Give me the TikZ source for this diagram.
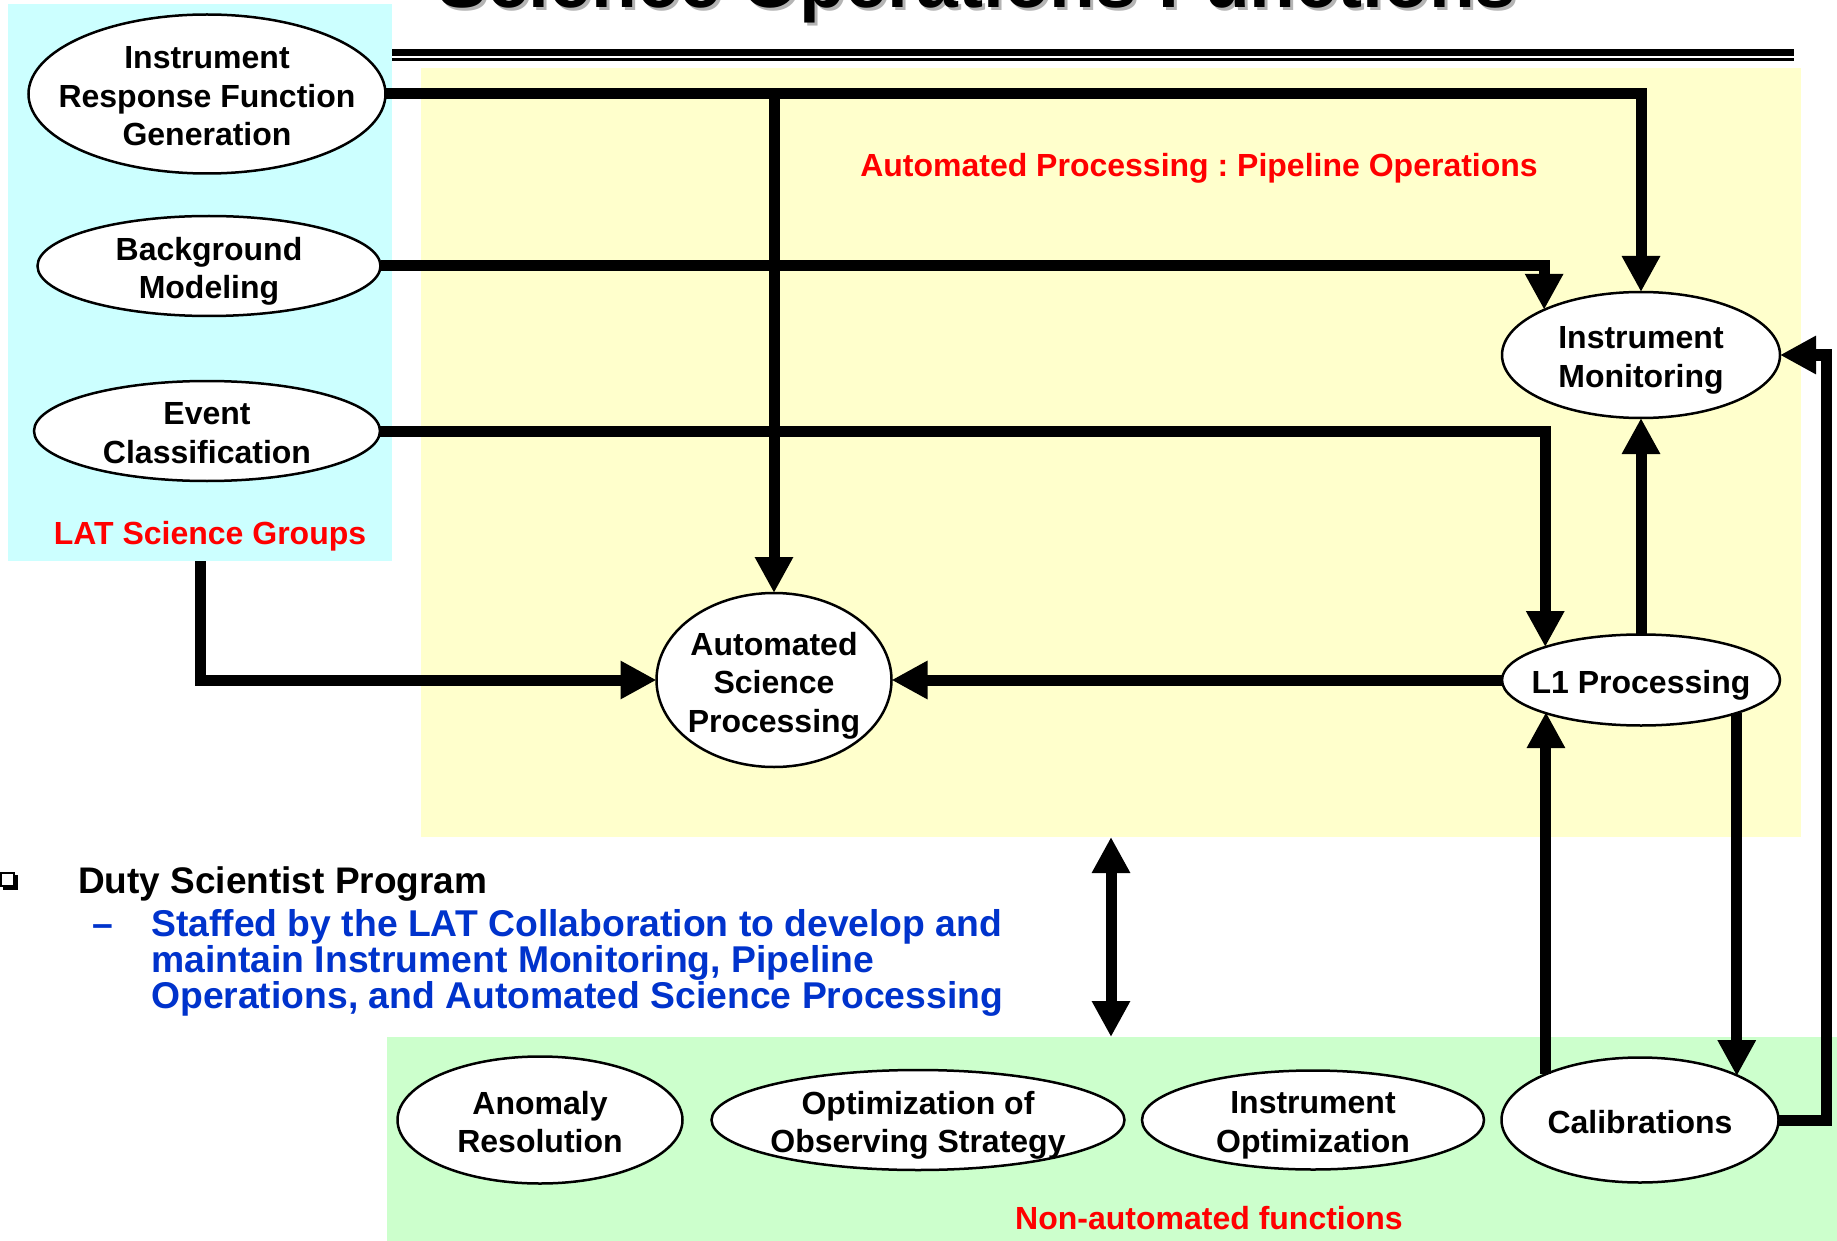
\documentclass[tikz,border=0pt]{standalone}
\usepackage{fontspec}
\setmainfont{Liberation Sans}
\usetikzlibrary{arrows.meta,shapes.geometric}
\definecolor{cyanbg}{HTML}{CCFFFF}
\definecolor{yellowbg}{HTML}{FFFFCC}
\definecolor{greenbg}{HTML}{CCFFCC}
\definecolor{lblred}{HTML}{FF0000}
\definecolor{txtblue}{HTML}{0033CC}
\definecolor{shadowgray}{HTML}{B4B4B4}
\begin{document}
\frenchspacing
\begin{tikzpicture}[x=1pt,y=-1pt,
  ell/.style={ellipse, draw=black, line width=2.5pt, fill=white, inner sep=0pt, outer sep=0pt},
  ntext/.style={font=\fontsize{32}{38.5}\selectfont\bfseries, align=center, inner sep=0pt, text depth=0pt, yshift=-2pt},
  redlbl/.style={font=\fontsize{32}{38.5}\selectfont\bfseries, text=lblred, inner sep=0pt, anchor=base},
  bodytext/.style={font=\fontsize{37.3}{37}\selectfont\bfseries, text=txtblue, inner sep=0pt, anchor=base west},
  arr/.style={line width=11pt, -{Triangle[width=36pt,length=36pt]}},
  dblarr/.style={line width=11pt, {Triangle[width=36pt,length=36pt]}-{Triangle[width=36pt,length=36pt]}},
  bgbox/.style={draw=none, inner sep=0pt, outer sep=0pt, anchor=north west}
]
\useasboundingbox (0,0) rectangle (1837,1241);
\clip (0,0) rectangle (1837,1241);
\fill[white] (0,0) rectangle (1837,1241);

% title (cut off at top)
\node[anchor=base west, inner sep=0pt, font=\fontsize{75}{80}\selectfont\bfseries, text=shadowgray] (titleshadow) at (440,11) {Science Operations Functions};
\node[anchor=base west, inner sep=0pt, font=\fontsize{75}{80}\selectfont\bfseries] (title) at (437,8) {Science Operations Functions};

% double rule
\fill[black] (392,49) rectangle (1794,56.5);
\fill[black] (392,58.5) rectangle (1794,61);

% background regions
\node[bgbox, fill=cyanbg, minimum width=384pt, minimum height=557pt] (lat) at (8,4) {};
\node[bgbox, fill=yellowbg, minimum width=1380pt, minimum height=769pt] (yel) at (421,68) {};
\node[bgbox, fill=greenbg, minimum width=1450pt, minimum height=204pt] (grn) at (387,1037) {};

% region labels
\node[redlbl] (autolbl) at (1199,176.5) {Automated Processing : Pipeline Operations};
\node[redlbl] (latlbl) at (210,544) {LAT Science Groups};
\node[redlbl] (nonlbl) at (1209,1229) {Non-automated functions};

% nodes
\node[ell, minimum width=357pt, minimum height=159pt] (irf) at (207,94) {};
\node[ell, minimum width=343pt, minimum height=100pt] (bm) at (209,266) {};
\node[ell, minimum width=346pt, minimum height=100pt] (ec) at (207,431) {};
\node[ell, minimum width=235pt, minimum height=174pt] (asp) at (774,680) {};
\node[ell, minimum width=278pt, minimum height=126pt] (im) at (1641,355) {};
\node[ell, minimum width=278pt, minimum height=91pt] (l1) at (1641,680) {};
\node[ell, minimum width=285pt, minimum height=127pt] (anom) at (540,1120) {};
\node[ell, minimum width=413pt, minimum height=100pt] (oos) at (918,1120) {};
\node[ell, minimum width=342pt, minimum height=99pt] (iopt) at (1313,1120) {};
\node[ell, minimum width=277pt, minimum height=125pt] (cal) at (1640,1120) {};

\node[ntext] (irft) at (irf) {Instrument\\Response Function\\Generation};
\node[ntext] (bmt) at (bm) {Background\\Modeling};
\node[ntext] (ect) at (ec) {Event\\Classification};
\node[ntext] (aspt) at (asp) {Automated\\Science\\Processing};
\node[ntext] (imt) at (im) {Instrument\\Monitoring};
\node[ntext] (l1t) at (l1) {L1 Processing};
\node[ntext] (anomt) at (anom) {Anomaly\\Resolution};
\node[ntext] (oost) at (oos) {Optimization of\\Observing Strategy};
\node[ntext] (ioptt) at (iopt) {Instrument\\Optimization};
\node[ntext] (calt) at (cal) {Calibrations};

% connectors
\draw[arr] (irf.east) -| (im.north);
\draw[arr] (irf.east -| asp.north) -- (asp.north);
\draw[arr] (bm.east) -| (im.155);
\draw[arr] (ec.east) -| (l1.161.4);
\draw[arr] (lat.south) |- (asp.west);
\draw[arr] (l1.west) -- (asp.east);
\draw[arr] (l1.north) -- (im.south);
\draw[arr] (cal.154.9) -- (cal.154.9 |- l1.198.6);
\draw[arr] (l1.341.4) -- (l1.341.4 |- cal.24.3);
\coordinate (loopx) at (1826,0);
\draw[arr] (cal.east) -| (loopx |- im.east) -- (im.east);
\coordinate (dax) at (1111,0);
\draw[dblarr] (dax |- yel.south) -- (dax |- grn.north);

% duty scientist text
\draw[line width=1.8pt] (1,873) rectangle (14,886);
\fill[black] (3,886) rectangle (17.5,889.5);
\fill[black] (14,875) rectangle (17.5,889.5);
\node[anchor=base west, inner sep=0pt, font=\fontsize{37}{37}\selectfont\bfseries] (duty) at (78,893) {Duty Scientist Program};
\node[bodytext] (dash) at (92,936) {\textendash};
\node[bodytext] (b1) at (151,936) {Staffed by the LAT Collaboration to develop and};
\node[bodytext] (b2) at (151,972) {maintain Instrument Monitoring, Pipeline};
\node[bodytext] (b3) at (151,1008) {Operations, and Automated Science Processing};
\end{tikzpicture}
\end{document}
